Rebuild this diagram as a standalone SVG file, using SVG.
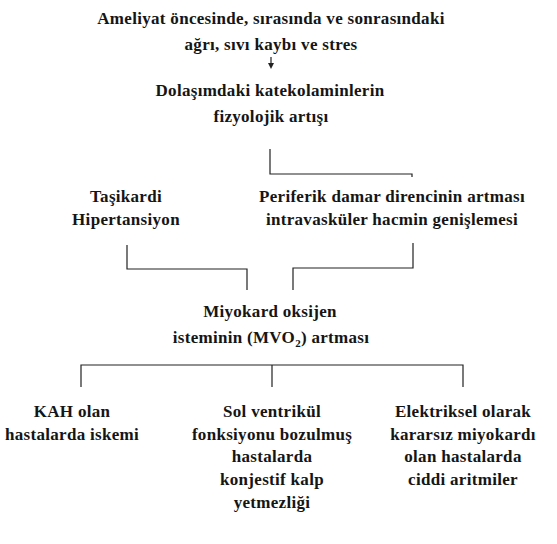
<svg xmlns="http://www.w3.org/2000/svg" width="557" height="544" viewBox="0 0 557 544">
<defs>
<style>
.t text{font-family:'Liberation Serif',serif;font-size:17px;font-weight:bold;fill:#151515;text-anchor:middle;letter-spacing:0.3px}
.c{fill:none;stroke:#222;stroke-width:1.2}
</style>
</defs>
<rect width="557" height="544" fill="#fff"/>
<g id="connectors">
<line class="c" x1="271" y1="57" x2="271" y2="64"/>
<path d="M268,63 L274,63 L271,69 Z" fill="#222"/>
<path class="c" d="M270,149 V174 H412 V177"/>
<path class="c" d="M127,245 V269 H247 V290"/>
<path class="c" d="M413,243 V268 H293 V290"/>
<path class="c" d="M81,387 V365 H463 V387 M272,365 V387"/>
</g>
<g class="t">
<g id="n-cause">
<text x="271" y="24">Ameliyat öncesinde, sırasında ve sonrasındaki</text>
<text x="271" y="50">ağrı, sıvı kaybı ve stres</text>
</g>
<g id="n-catecholamine">
<text x="270" y="96">Dolaşımdaki katekolaminlerin</text>
<text x="271" y="122">fizyolojik artışı</text>
</g>
<g id="n-tachy">
<text x="126" y="202">Taşikardi</text>
<text x="126" y="225">Hipertansiyon</text>
</g>
<g id="n-peripheral">
<text x="392" y="202">Periferik damar direncinin artması</text>
<text x="392" y="225">intravasküler hacmin genişlemesi</text>
</g>
<g id="n-mvo2">
<text x="270" y="317">Miyokard oksijen</text>
<text x="271" y="343">isteminin (MVO<tspan font-size="11" dy="4">2</tspan><tspan dy="-4">) artması</tspan></text>
</g>
<g id="n-ischemia">
<text x="72" y="417">KAH olan</text>
<text x="72" y="440">hastalarda iskemi</text>
</g>
<g id="n-chf">
<text x="272" y="417">Sol ventrikül</text>
<text x="272" y="440">fonksiyonu bozulmuş</text>
<text x="272" y="462">hastalarda</text>
<text x="272" y="485">konjestif kalp</text>
<text x="272" y="508">yetmezliği</text>
</g>
<g id="n-arrhythmia">
<text x="463" y="417">Elektriksel olarak</text>
<text x="463" y="440">kararsız miyokardı</text>
<text x="463" y="462">olan hastalarda</text>
<text x="463" y="485">ciddi aritmiler</text>
</g>
</g>
</svg>
